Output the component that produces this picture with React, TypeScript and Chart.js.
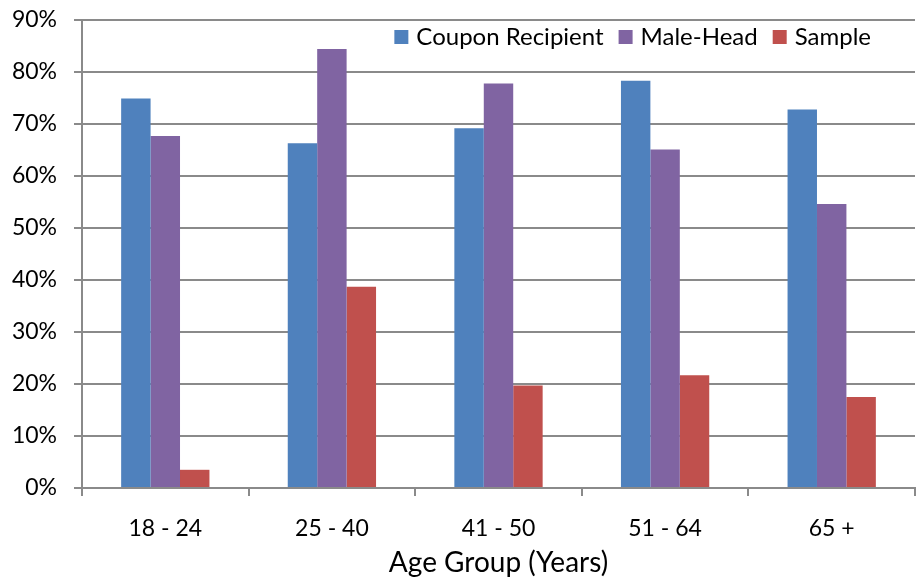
import React, { useEffect, useRef } from 'react';
import { Chart, registerables } from 'chart.js';

Chart.register(...registerables);

const categories = ['18 - 24', '25 - 40', '41 - 50', '51 - 64', '65 +'];
const couponRecipient = [74.9, 66.3, 69.2, 78.3, 72.8];
const maleHead = [67.7, 84.4, 77.8, 65.1, 54.6];
const sample = [3.5, 38.7, 19.7, 21.7, 17.5];
const seriesNames = ['Coupon Recipient', 'Male-Head', 'Sample'];
const seriesColors = ['#4F81BD', '#8064A2', '#C0504D'];
const yMax = 90;
const yStep = 10;
const xTitle = 'Age Group (Years)';

const FONT = 'Lato, "Open Sans", sans-serif';

const legendPlugin = {
  id: 'insideLegend',
  afterDraw(chart: any) {
    const { ctx, chartArea } = chart;
    ctx.save();
    ctx.font = `24px ${FONT}`;
    ctx.textBaseline = 'middle';
    ctx.textAlign = 'left';
    const box = 14;
    const gap = 8;
    const itemGap = 15;
    const items = chart.data.datasets.map((d: any) => ({
      label: d.label,
      color: d.backgroundColor,
      w: ctx.measureText(d.label).width,
    }));
    const total =
      items.reduce((s: number, it: any) => s + box + gap + it.w, 0) +
      itemGap * (items.length - 1);
    let x = chartArea.right - 44 - total;
    const cy = chartArea.top + 17;
    items.forEach((it: any) => {
      ctx.fillStyle = it.color;
      ctx.fillRect(x, cy - box / 2, box, box);
      x += box + gap;
      ctx.fillStyle = '#000';
      ctx.fillText(it.label, x, cy);
      x += it.w + itemGap;
    });
    ctx.restore();
  },
};

export default function App() {
  const ref = useRef<HTMLCanvasElement | null>(null);

  useEffect(() => {
    document.body.style.margin = '0';
    if (!ref.current) return;
    const chart = new Chart(ref.current, {
      type: 'bar',
      data: {
        labels: categories,
        datasets: [
          { label: seriesNames[0], data: couponRecipient, backgroundColor: seriesColors[0] },
          { label: seriesNames[1], data: maleHead, backgroundColor: seriesColors[1] },
          { label: seriesNames[2], data: sample, backgroundColor: seriesColors[2] },
        ],
      },
      options: {
        responsive: false,
        animation: false,
        layout: { padding: { top: 20, right: 1, left: 0, bottom: 0 } },
        datasets: {
          bar: { categoryPercentage: 0.53, barPercentage: 1 },
        },
        plugins: {
          legend: { display: false },
          tooltip: { enabled: false },
        },
        scales: {
          x: {
            grid: {
              offset: true,
              drawOnChartArea: false,
              drawTicks: true,
              tickLength: 8,
              color: '#8a8a8a',
              lineWidth: 2,
            },
            border: { color: '#8a8a8a', width: 2 },
            ticks: {
              color: '#000',
              font: { family: FONT, size: 23 },
              padding: 19,
            },
            title: {
              display: true,
              text: xTitle,
              color: '#000',
              font: { family: FONT, size: 28 },
              padding: { top: 0, bottom: 1 },
            },
            afterFit: (scale: any) => {
              scale.height = 93;
              scale.paddingLeft = 0;
              scale.paddingRight = 0;
            },
          },
          y: {
            min: 0,
            max: yMax,
            grid: {
              color: '#8a8a8a',
              lineWidth: 2,
              tickLength: 8,
            },
            border: { color: '#8a8a8a', width: 2 },
            ticks: {
              stepSize: yStep,
              color: '#000',
              font: { family: FONT, size: 23 },
              padding: 17,
              callback: (v: any) => `${v}%`,
            },
            afterFit: (scale: any) => {
              scale.width = 82;
              scale.paddingTop = 0;
              scale.paddingBottom = 0;
            },
          },
        },
      },
      plugins: [legendPlugin],
    });
    return () => chart.destroy();
  }, []);

  return (
    <div style={{ width: 916, height: 581 }}>
      <canvas ref={ref} width={916} height={581} />
    </div>
  );
}
